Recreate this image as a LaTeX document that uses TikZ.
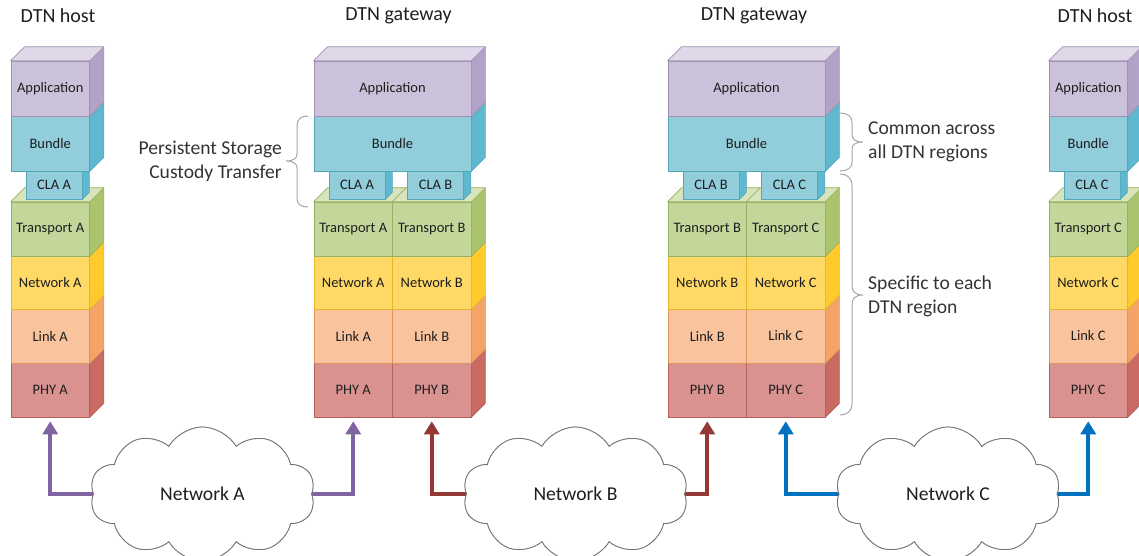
\documentclass[tikz,border=0pt]{standalone}
\usepackage{fontspec}
\setmainfont{Carlito}
\usetikzlibrary{shapes.symbols,arrows.meta,calc}

% layer colours: F = front, S = side, T = top
\definecolor{appF}{HTML}{CCC1DA}\definecolor{appS}{HTML}{B3A2C7}\definecolor{appT}{HTML}{DFD8E8}
\definecolor{bunF}{HTML}{92CDDC}\definecolor{bunS}{HTML}{5EB8D0}\definecolor{bunT}{HTML}{B7DEE8}
\definecolor{trnF}{HTML}{C4D79B}\definecolor{trnS}{HTML}{A9C46C}\definecolor{trnT}{HTML}{D8E4BC}
\definecolor{netF}{HTML}{FFD966}\definecolor{netS}{HTML}{FFCA2C}\definecolor{netT}{HTML}{FFE699}
\definecolor{lnkF}{HTML}{F9C49D}\definecolor{lnkS}{HTML}{F4A467}\definecolor{lnkT}{HTML}{FBD5B5}
\definecolor{phyF}{HTML}{D9928F}\definecolor{phyS}{HTML}{C96A63}\definecolor{phyT}{HTML}{E6B9B8}
\definecolor{txtc}{HTML}{1E1E1E}
\definecolor{lblc}{HTML}{333333}
\definecolor{brcc}{HTML}{A6A6A6}
\definecolor{purp}{HTML}{8064A2}
\definecolor{dred}{HTML}{953735}
\definecolor{blu}{HTML}{0070C0}

% one front face of a layer, as a named node
\newcommand\slab[7]{%
  \node[lyr, minimum width=#4pt, minimum height=#5pt, fill=#6F, draw=#6S!90!black] (#1) at (#2,#3) {#7};}
% the right-hand side face of a layer
\newcommand\sideface[3]{%
  \filldraw[fill=#3S, draw=#3S!90!black, line width=0.6pt, line join=round]
    (#1.north east) -- ++(#2,-#2) -- ($(#1.south east)+(#2,-#2)$) -- (#1.south east) -- cycle;}
% the top face spanning from one front face to another
\newcommand\topface[4]{%
  \filldraw[fill=#4T, draw=#4S!90!black, line width=0.6pt, line join=round]
    (#1.north west) -- ++(#3,-#3) -- ($(#2.north east)+(#3,-#3)$) -- (#2.north east) -- cycle;}

% a single-column protocol stack
\newcommand\hoststack[3]{%
  \pgfmathsetmacro\stkx{#2+39.25}%
  \pgfmathsetmacro\stkc{#2+43}%
  \slab{#1phy}{\stkx}{390}{78.5}{54}{phy}{PHY #3}\sideface{#1phy}{14}{phy}
  \slab{#1lnk}{\stkx}{336}{78.5}{54}{lnk}{Link #3}\sideface{#1lnk}{14}{lnk}
  \slab{#1net}{\stkx}{282.5}{78.5}{53}{net}{Network #3}\sideface{#1net}{14}{net}
  \slab{#1trn}{\stkx}{229}{78.5}{54}{trn}{Transport #3}\sideface{#1trn}{14}{trn}
  \topface{#1trn}{#1trn}{14}{trn}
  \slab{#1cla}{\stkc}{185}{56}{28}{bun}{CLA #3}\sideface{#1cla}{7}{bun}
  \slab{#1bun}{\stkx}{143.5}{78.5}{55}{bun}{Bundle}\sideface{#1bun}{14}{bun}
  \slab{#1app}{\stkx}{88.5}{78.5}{55}{app}{Application}\sideface{#1app}{14}{app}
  \topface{#1app}{#1app}{14}{app}}

% a two-column gateway stack
\newcommand\gwstack[4]{%
  \pgfmathsetmacro\stka{#2+39.25}%
  \pgfmathsetmacro\stkb{#2+117.75}%
  \pgfmathsetmacro\stkm{#2+78.5}%
  \pgfmathsetmacro\stkp{#2+43}%
  \pgfmathsetmacro\stkq{#2+121.5}%
  \slab{#1phyL}{\stka}{390}{78.5}{54}{phy}{PHY #3}\slab{#1phyR}{\stkb}{390}{78.5}{54}{phy}{PHY #4}\sideface{#1phyR}{14}{phy}
  \slab{#1lnkL}{\stka}{336}{78.5}{54}{lnk}{Link #3}\slab{#1lnkR}{\stkb}{336}{78.5}{54}{lnk}{Link #4}\sideface{#1lnkR}{14}{lnk}
  \slab{#1netL}{\stka}{282.5}{78.5}{53}{net}{Network #3}\slab{#1netR}{\stkb}{282.5}{78.5}{53}{net}{Network #4}\sideface{#1netR}{14}{net}
  \slab{#1trnL}{\stka}{229}{78.5}{54}{trn}{Transport #3}\slab{#1trnR}{\stkb}{229}{78.5}{54}{trn}{Transport #4}\sideface{#1trnR}{14}{trn}
  \topface{#1trnL}{#1trnR}{14}{trn}
  \draw[draw=trnS!90!black, line width=0.6pt] (#1trnR.north west) -- ++(14,-14);
  \slab{#1claL}{\stkp}{185}{56}{28}{bun}{CLA #3}\sideface{#1claL}{7}{bun}
  \slab{#1claR}{\stkq}{185}{56}{28}{bun}{CLA #4}\sideface{#1claR}{7}{bun}
  \slab{#1bun}{\stkm}{143.5}{157}{55}{bun}{Bundle}\sideface{#1bun}{14}{bun}
  \slab{#1app}{\stkm}{88.5}{157}{55}{app}{Application}\sideface{#1app}{14}{app}
  \topface{#1app}{#1app}{14}{app}}

\begin{document}
\begin{tikzpicture}[x=1pt, y=-1pt,
  lyr/.style={rectangle, inner sep=0pt, line width=0.6pt, text=txtc,
    font=\fontsize{14.5}{17}\selectfont},
  title/.style={text=txtc, font=\fontsize{20}{24}\selectfont},
  note/.style={text=lblc, inner sep=0pt, font=\fontsize{19.6}{23.5}\selectfont},
  brc/.style={draw=brcc, line width=1pt},
  cloudy/.style={cloud, cloud puffs=10, cloud puff arc=120, cloud ignores aspect,
    minimum width=225pt, minimum height=134pt, inner sep=0pt,
    draw=black!55, line width=0.8pt, fill=white, text=txtc,
    font=\fontsize{19.6}{23.5}\selectfont},
  flow/.style={line width=4pt, -{Triangle[width=15pt,length=13pt]}, shorten >=4pt}]

\useasboundingbox (0,0) rectangle (1139,555);

% headings
\node[title] (tA)  at (58,16)    {DTN host};
\node[title] (tG1) at (398.5,16) {DTN gateway};
\node[title] (tG2) at (754,16)   {DTN gateway};
\node[title] (tC)  at (1095,16)  {DTN host};

% protocol stacks
\hoststack{hA}{11}{A}
\gwstack{gA}{314}{A}{B}
\gwstack{gB}{668}{B}{C}
\hoststack{hC}{1049}{C}

% bracket and notes
\draw[brc] (308,116) .. controls (301,116) and (297,119) .. (297,126) -- (297,154)
  .. controls (297,158) and (294,161) .. (286,161)
  .. controls (294,161) and (297,164) .. (297,168) -- (297,199)
  .. controls (297,204) and (301,207) .. (308,207);
\node[note, anchor=east, align=right] (pst) at (282,161.5) {Persistent Storage\\Custody Transfer};

\draw[brc] (840,113) .. controls (847,113) and (852,116) .. (852,122) -- (852,135)
  .. controls (852,139) and (855,142) .. (863,142)
  .. controls (855,142) and (852,145) .. (852,149) -- (852,163)
  .. controls (852,168) and (847,171) .. (840,171);
\node[note, anchor=west, align=left] (cmn) at (868,142) {Common across\\all DTN regions};

\draw[brc] (840,174) .. controls (847,174) and (852,178) .. (852,186) -- (852,286)
  .. controls (852,291) and (855,295) .. (863,295)
  .. controls (855,295) and (852,299) .. (852,304) -- (852,404)
  .. controls (852,411) and (847,415) .. (840,415);
\node[note, anchor=west, align=left] (spc) at (868,296.5) {Specific to each\\DTN region};

% networks and their links to the stacks
\path (202.5,494) coordinate (pA) (575.5,494) coordinate (pB) (948,494) coordinate (pC);
\node[cloudy] (nA) at (pA) {};
\node[cloudy] (nB) at (pB) {};
\node[cloudy] (nC) at (pC) {};
\draw[flow, purp] (nA.west) -| (hAphy.south);
\draw[flow, purp] (nA.east) -| (gAphyL.south);
\draw[flow, dred] (nB.west) -| (gAphyR.south);
\draw[flow, dred] (nB.east) -| (gBphyL.south);
\draw[flow, blu]  (nC.west) -| (gBphyR.south);
\draw[flow, blu]  (nC.east) -| (hCphy.south);
\node[cloudy] (nA2) at (pA) {Network A};
\node[cloudy] (nB2) at (pB) {Network B};
\node[cloudy] (nC2) at (pC) {Network C};
\end{tikzpicture}
\end{document}
